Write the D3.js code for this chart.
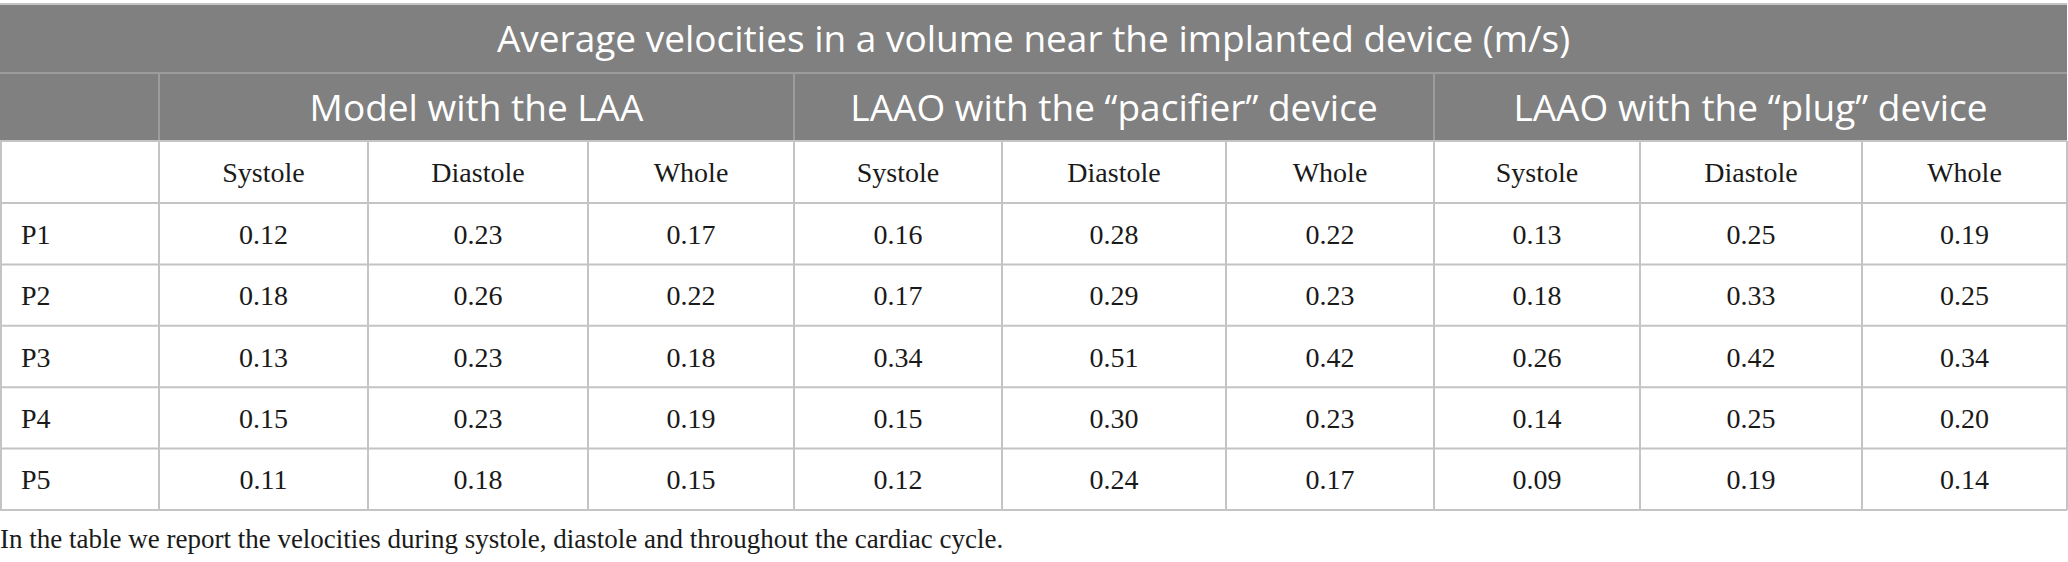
<!DOCTYPE html>
<html>
<head>
<meta charset="utf-8">
<script src="https://cdn.jsdelivr.net/npm/d3@7"></script>
<style>
  body { margin: 0; background: #fff; }
  svg { display: block; }
</style>
</head>
<body>
<div id="table"></div>
<script>
// table content
const title = "Average velocities in a volume near the implanted device (m/s)"
const groups = ["Model with the LAA", "LAAO with the \u201cpacifier\u201d device", "LAAO with the \u201cplug\u201d device"]
const phases = ["Systole", "Diastole", "Whole"]
const patients = ["P1", "P2", "P3", "P4", "P5"]
const modelLAA = [[0.12, 0.23, 0.17], [0.18, 0.26, 0.22], [0.13, 0.23, 0.18], [0.15, 0.23, 0.19], [0.11, 0.18, 0.15]]
const pacifier = [[0.16, 0.28, 0.22], [0.17, 0.29, 0.23], [0.34, 0.51, 0.42], [0.15, 0.30, 0.23], [0.12, 0.24, 0.17]]
const plug     = [[0.13, 0.25, 0.19], [0.18, 0.33, 0.25], [0.26, 0.42, 0.34], [0.14, 0.25, 0.20], [0.09, 0.19, 0.14]]
const footnote = "In the table we report the velocities during systole, diastole and throughout the cardiac cycle."

const series = [modelLAA, pacifier, plug]

// layout
const W = 2068, H = 562
const colEdges = [0, 159, 368, 588, 794, 1002, 1226, 1434, 1640, 1862, 2067]
const tableTop = 4, titleH = 69, groupH = 68, phaseH = 62, bodyBottom = 510
const headFill = "#7f807f", headLine = "#9b9c9b", gridLine = "#c4c4c4", ink = "#1a1a1a"
const sans = "'Open Sans', sans-serif", serif = "'Liberation Serif', serif"

const svg = d3.select("#table")
  .append("svg")
    .attr("width", W)
    .attr("height", H)

const yTitle = tableTop, yGroup = tableTop + titleH, yPhase = yGroup + groupH, yBody = yPhase + phaseH
const y = d3.scaleBand()
  .domain(patients)
  .range([yBody, bodyBottom])

const colX = i => colEdges[i]
const colMid = i => (colEdges[i] + colEdges[i + 1]) / 2

// gray header block
svg.append("rect")
  .attr("x", colX(0)).attr("y", yTitle)
  .attr("width", colX(10) - colX(0)).attr("height", titleH + groupH)
  .attr("fill", headFill)

svg.append("text")
  .attr("x", (colX(0) + colX(10)) / 2)
  .attr("y", yTitle + 48)
  .attr("text-anchor", "middle")
  .attr("fill", "white")
  .style("font-family", sans)
  .style("font-size", "37px")
  .text(title)

svg.selectAll(null)
  .data(groups)
  .enter()
  .append("text")
    .attr("x", (d, i) => (colX(1 + 3 * i) + colX(4 + 3 * i)) / 2)
    .attr("y", yGroup + 48)
    .attr("text-anchor", "middle")
    .attr("fill", "white")
    .style("font-family", sans)
    .style("font-size", "37px")
    .text(d => d)

// header lines
svg.append("line")
  .attr("x1", colX(0)).attr("x2", colX(10))
  .attr("y1", yTitle).attr("y2", yTitle)
  .style("stroke", gridLine).style("stroke-width", 2)
svg.append("line")
  .attr("x1", colX(0)).attr("x2", colX(10))
  .attr("y1", yGroup).attr("y2", yGroup)
  .style("stroke", headLine).style("stroke-width", 2)
svg.selectAll(null)
  .data([1, 4, 7])
  .enter()
  .append("line")
    .attr("x1", d => colX(d)).attr("x2", d => colX(d))
    .attr("y1", yGroup).attr("y2", yPhase)
    .style("stroke", headLine).style("stroke-width", 2)

// phase header row
const phaseCols = d3.range(9).map(i => ({col: i + 1, label: phases[i % 3]}))
svg.selectAll(null)
  .data(phaseCols)
  .enter()
  .append("text")
    .attr("x", d => colMid(d.col))
    .attr("y", yPhase + 41)
    .attr("text-anchor", "middle")
    .attr("fill", ink)
    .style("font-family", serif)
    .style("font-size", "28px")
    .text(d => d.label)

// body cells
const cells = []
patients.forEach((p, r) => {
  series.forEach((s, g) => {
    s[r].forEach((v, k) => cells.push({p: p, col: 1 + 3 * g + k, v: v}))
  })
})

const baseline = y.bandwidth() / 2 + 10

svg.selectAll(null)
  .data(patients)
  .enter()
  .append("text")
    .attr("x", colX(0) + 21)
    .attr("y", d => y(d) + baseline)
    .attr("fill", ink)
    .style("font-family", serif)
    .style("font-size", "28px")
    .text(d => d)

svg.selectAll(null)
  .data(cells)
  .enter()
  .append("text")
    .attr("x", d => colMid(d.col))
    .attr("y", d => y(d.p) + baseline)
    .attr("text-anchor", "middle")
    .attr("fill", ink)
    .style("font-family", serif)
    .style("font-size", "28px")
    .text(d => d3.format(".2f")(d.v))

// grid in white area
const hLines = [yPhase, yBody].concat(patients.map(p => y(p) + y.bandwidth()))
svg.selectAll(null)
  .data(hLines)
  .enter()
  .append("line")
    .attr("x1", colX(0)).attr("x2", colX(10))
    .attr("y1", d => d).attr("y2", d => d)
    .style("stroke", gridLine).style("stroke-width", 2)
svg.selectAll(null)
  .data(colEdges)
  .enter()
  .append("line")
    .attr("x1", d => Math.max(d, 1)).attr("x2", d => Math.max(d, 1))
    .attr("y1", yPhase).attr("y2", bodyBottom)
    .style("stroke", gridLine).style("stroke-width", 2)

svg.append("text")
  .attr("x", 0)
  .attr("y", 548)
  .attr("fill", ink)
  .style("font-family", serif)
  .style("font-size", "27px")
  .text(footnote)
</script>
</body>
</html>
